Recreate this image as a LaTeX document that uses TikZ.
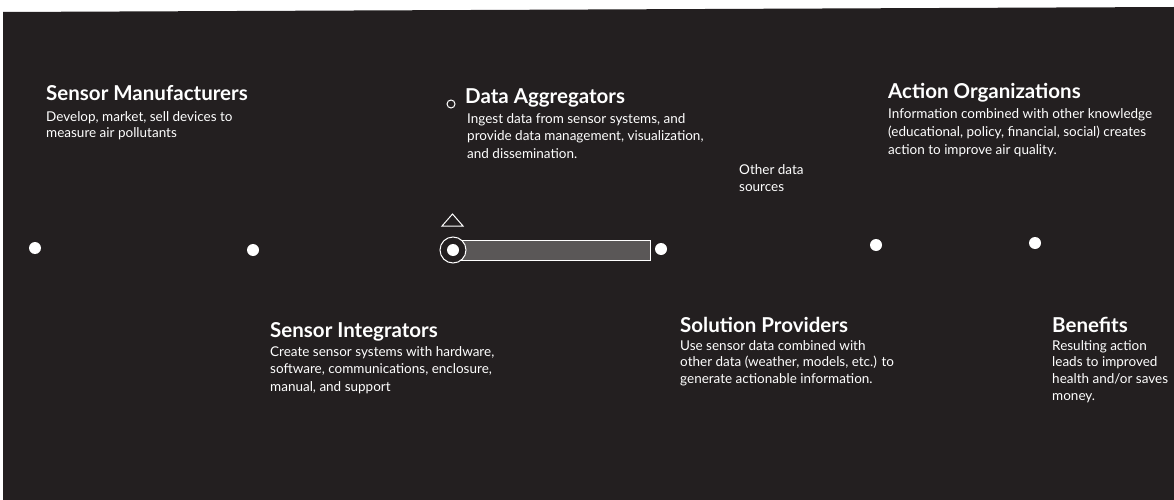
\documentclass[tikz,border=0pt]{standalone}
\usepackage{fontspec}
\setmainfont{Lato}
\definecolor{bg}{HTML}{231F20}
\definecolor{barcol}{HTML}{5A5757}
\begin{document}
\begin{tikzpicture}[x=1pt,y=-1pt,
  title/.style={anchor=base west, inner sep=0pt, text=white, font=\fontsize{20.5}{24}\selectfont\bfseries},
  desc/.style={anchor=north west, inner sep=0pt, text=white, align=left, font=\fontsize{13.5}{#1}\selectfont},
  desc/.default=17,
  dot/.style={circle, fill=white, inner sep=0pt, minimum size=12pt}]
\useasboundingbox (0,0) rectangle (1174,500);
\fill[white] (0,0) rectangle (1174,500);
\fill[bg] (3,12) -- (1174,7) -- (1174,500) -- (3,500) -- cycle;

% highlighted bar
\fill[barcol] (461,240) rectangle (650,260);
\draw[white, line width=1pt] (461,240) -- (650,240) -- (650,260) -- (461,260);
\draw[white, line width=1pt, fill=bg] (453,250) circle[radius=13pt];
\draw[white, line width=1pt] (442,226) -- (452.5,214) -- (463,226) -- cycle;

% dots
\node[dot] (d1) at (35,248) {};
\node[dot] (d2) at (253,250) {};
\node[dot] (d3) at (453,250) {};
\node[dot] (d4) at (661,249) {};
\node[dot] (d5) at (876,245) {};
\node[dot] (d6) at (1035,243) {};

\node[draw=white, circle, inner sep=0pt, minimum size=8pt, line width=1pt] (sc) at (451,104) {};

% texts
\node[title] (t1) at (46,101) {Sensor Manufacturers};
\node[desc=16] (s1) at (46,111) {Develop, market, sell devices to\\measure air pollutants};

\node[title] (t2) at (465,104) {Data Aggregators};
\node[desc=17.5] (s2) at (467,113) {Ingest data from sensor systems, and\\provide data management, visualization,\\and dissemination.};

\node[title] (t3) at (888,99) {Action Organizations};
\node[desc=18] (s3) at (888,108) {Information combined with other knowledge\\(educational, policy, financial, social) creates\\action to improve air quality.};

\node[desc=17] (od) at (739,164) {Other data\\sources};

\node[title] (t4) at (270,337) {Sensor Integrators};
\node[desc=17.5] (s4) at (270,346) {Create sensor systems with hardware,\\software, communications, enclosure,\\manual, and support};

\node[title] (t5) at (680,332) {Solution Providers};
\node[desc=16.5] (s5) at (680,340) {Use sensor data combined with\\other data (weather, models, etc.) to\\generate actionable information.};

\node[title] (t6) at (1052,332) {Benefits};
\node[desc=16.7] (s6) at (1052,340) {Resulting action\\leads to improved\\health and/or saves\\money.};
\end{tikzpicture}
\end{document}
